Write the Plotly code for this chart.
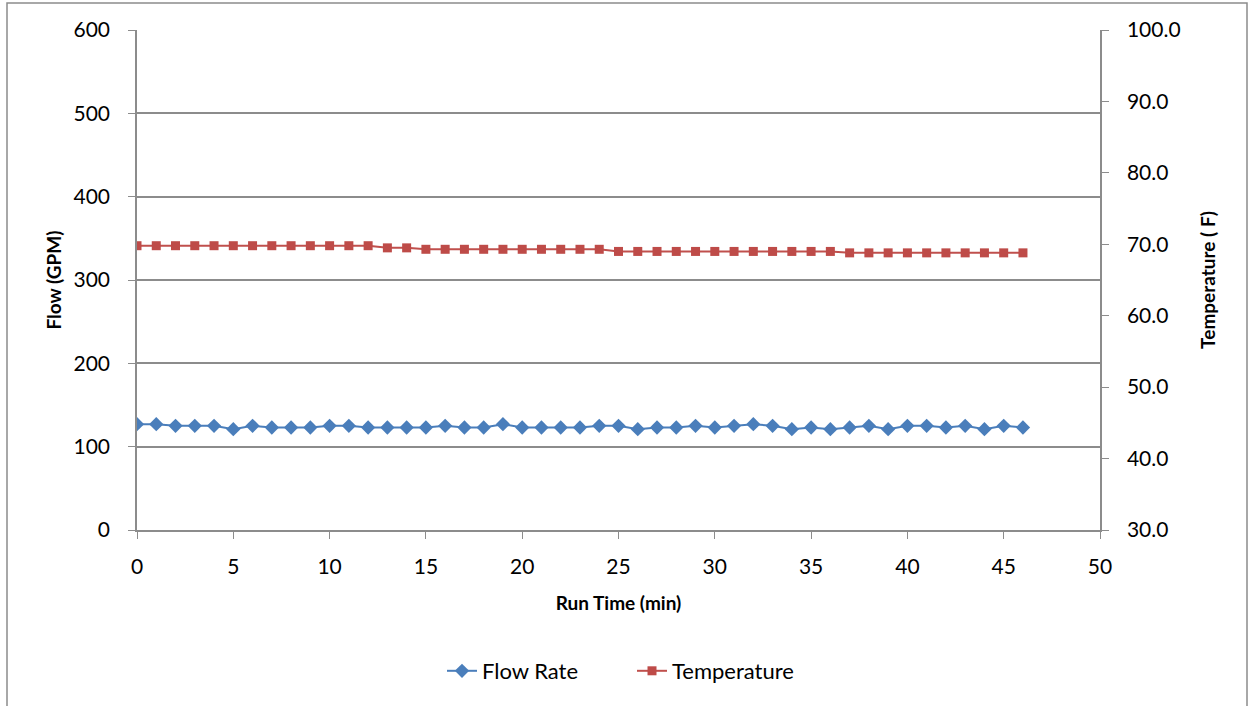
import plotly.graph_objects as go

run_time = list(range(0, 47))
flow_rate = [127, 127, 125, 125, 125, 121, 125, 123, 123, 123,
             125, 125, 123, 123, 123, 123, 125, 123, 123, 127,
             123, 123, 123, 123, 125, 125, 121, 123, 123, 125,
             123, 125, 127, 125, 121, 123, 121, 123, 125, 121,
             125, 125, 123, 125, 121, 125, 123]
temperature = [69.8] * 13 + [69.5] * 2 + [69.3] * 10 + [69.0] * 12 + [68.8] * 10

FONT = "Lato"
GRID = "#8c8c8c"

fig = go.Figure()
fig.add_trace(go.Scatter(
    x=run_time, y=flow_rate, name="Flow Rate", mode="lines+markers",
    line=dict(color="#4a7ebb", width=2),
    marker=dict(symbol="diamond", size=11, color="#4a7ebb"),
    yaxis="y"))
fig.add_trace(go.Scatter(
    x=run_time, y=temperature, name="Temperature", mode="lines+markers",
    line=dict(color="#c0504d", width=2),
    marker=dict(symbol="square", size=9, color="#be4b48"),
    yaxis="y2"))

L, R, T, B = 137, 1100, 30, 530
W, H = 1250, 706
pw, ph = R - L, B - T

def px_x(x):
    return (x - L) / pw

def px_y(y):
    return (B - y) / ph

fig.update_layout(
    width=W, height=H,
    margin=dict(l=L, r=W - R, t=T, b=H - B, pad=0),
    paper_bgcolor="white", plot_bgcolor="white",
    font=dict(family=FONT, size=20, color="#000000"),
    showlegend=True,
    legend=dict(orientation="h", x=px_x(632), xanchor="center", y=px_y(671), yanchor="middle",
                font=dict(size=22), tracegroupgap=0, entrywidth=145, entrywidthmode="pixels"),
    xaxis=dict(range=[0, 50], dtick=5, tick0=0, showgrid=False, zeroline=False,
               showline=True, linecolor=GRID, linewidth=1.5,
               ticks="outside", ticklen=7, tickcolor=GRID, ticklabelstandoff=10,
               tickfont=dict(size=21),
               title=dict(text="<b>Run Time (min)</b>", font=dict(size=19), standoff=20)),
    yaxis=dict(range=[0, 600], dtick=100, tick0=0, showgrid=True, gridcolor=GRID, gridwidth=1.5,
               zeroline=False, showline=True, linecolor=GRID, linewidth=1.5,
               ticks="outside", ticklen=7, tickcolor=GRID, ticklabelstandoff=14,
               tickfont=dict(size=21),
               title=dict(text="<b>Flow (GPM)</b>", font=dict(size=19), standoff=7)),
    yaxis2=dict(range=[30, 100], dtick=10, tick0=30, overlaying="y", side="right",
                showgrid=False, zeroline=False, showline=True, linecolor=GRID, linewidth=1.5,
                ticks="outside", ticklen=7, tickcolor=GRID, tickformat=".1f", ticklabelstandoff=14,
                tickfont=dict(size=21),
                title=dict(text="<b>Temperature ( F)</b>", font=dict(size=19), standoff=22)),
    shapes=[dict(type="rect", xref="paper", yref="paper",
                 x0=px_x(7), x1=px_x(1247), y0=px_y(720), y1=px_y(3),
                 line=dict(color="#8c8c8c", width=1.5), fillcolor="rgba(0,0,0,0)", layer="below")],
)

fig.write_html("out.html")
